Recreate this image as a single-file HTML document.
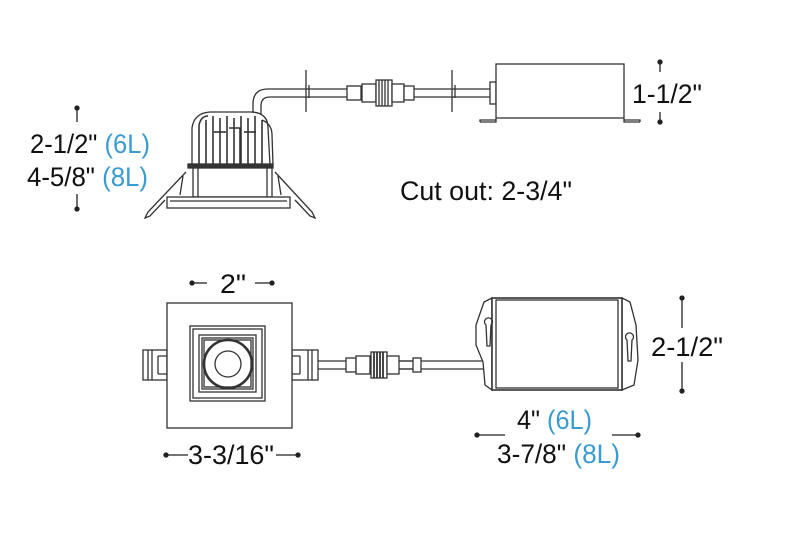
<!DOCTYPE html>
<html><head><meta charset="utf-8"><style>
html,body{margin:0;padding:0;background:#fff;}
svg{display:block}
text{font-family:"Liberation Sans",sans-serif;fill:#111;}
.b{fill:#3a9bd0}
</style></head><body>
<svg width="787" height="556" viewBox="0 0 787 556" xmlns="http://www.w3.org/2000/svg">
<g stroke="#333" stroke-width="1.3" fill="none">
<path d="M192 165 L192 128 Q194 113 210 112 L252 112 Q268 113 268 128 L270 165" fill="#fff"/>
<path d="M262 120 Q272 124 272 135 L273 165"/>
<g stroke-width="1.6">
<path d="M199 165 L199 125 Q201 116 208 116"/>
<path d="M206 165 L206 120"/><path d="M213 165 L213 116"/><path d="M220 165 L220 118"/>
<path d="M227 165 L227 116"/><path d="M234 165 L234 118"/><path d="M241 165 L241 116"/>
<path d="M248 165 L248 118"/><path d="M255 165 L255 116"/><path d="M262 165 L262 120"/>
<path d="M229 128 L240 128 L240 165"/><path d="M214 132 L226 132"/><path d="M244 132 L256 132"/>
</g>
<rect x="188" y="164" width="85" height="4" fill="#333"/>
<rect x="193" y="168" width="79" height="29" fill="#fff"/>
<path d="M198 168 L198 197 M267 168 L267 197"/>
<rect x="167" y="197" width="123" height="11" fill="#fff"/>
<path d="M170 201 L287 201"/>
<path d="M186 172 L148 212 L145 218 L150 216 L165 200 M183 176 L180 195"/>
<path d="M275 172 L312 212 L315 218 L310 216 L295 200 M278 176 L281 195"/>
<path d="M253 113 L253 104 Q253 89 268 89 L495 89"/>
<path d="M261 114 L261 106 Q261 97 270 97 L495 97"/>
<path d="M306 70 L306 112 M309 85 L309 98 M452 70 L452 112 M455 85 L455 98"/>
<rect x="347" y="86" width="14" height="14" fill="#fff"/>
<rect x="362" y="84" width="14" height="18" fill="#fff"/>
<rect x="376" y="80" width="16" height="26" fill="#fff"/>
<path d="M379 80 L379 106 M382 80 L382 106 M385 80 L385 106 M388 80 L388 106"/>
<rect x="392" y="84" width="12" height="18" fill="#fff"/>
<rect x="404" y="86" width="10" height="14" fill="#fff"/>
<rect x="490" y="82" width="6" height="22" fill="#fff"/>
<rect x="496" y="64" width="128" height="54" fill="#fff"/>
<path d="M480 122 L496 122 L496 118 M624 118 L624 122 L640 122 M480 122 L480 120 L496 120 M624 120 L640 120 L640 122"/>
<rect x="143" y="350" width="24" height="30" fill="#fff"/>
<path d="M148 350 L148 380 M152 350 L152 380 M158 356 L167 356 M158 374 L167 374 M158 356 L158 374"/>
<rect x="292" y="350" width="26" height="30" fill="#fff"/>
<path d="M312 350 L312 380 M308 350 L308 380 M292 356 L300 356 M292 374 L300 374 M300 356 L300 374"/>
<rect x="167" y="303" width="125" height="125" fill="#fff"/>
<rect x="190" y="326" width="75" height="75"/>
<rect x="193" y="329" width="69" height="69"/>
<rect x="199" y="335" width="57" height="57"/>
<rect x="202" y="338" width="51" height="51"/>
<rect x="204" y="340" width="47" height="47"/>
<circle cx="228" cy="364" r="24" stroke-width="2.6"/>
<circle cx="228" cy="364" r="13"/>
<path d="M318 361 L495 361 M318 369 L495 369"/>
<rect x="346" y="358" width="10" height="14" fill="#fff"/>
<rect x="356" y="356" width="14" height="18" fill="#fff"/>
<rect x="371" y="352" width="16" height="26" fill="#fff"/>
<path d="M374 352 L374 378 M377 352 L377 378 M380 352 L380 378 M383 352 L383 378" stroke-width="1.8"/>
<rect x="387" y="356" width="12" height="18" fill="#fff"/>
<rect x="413" y="358" width="8" height="14" fill="#fff"/>
<path d="M399 361 L413 361 M399 369 L413 369"/>
<path d="M492 298 L484 302 L476 325 L476 345 L483 362 L485 385 L492 390 Z" fill="#fff"/>
<path d="M622 298 L630 302 L636 325 L638 360 L634 385 L622 390 Z" fill="#fff"/>
<rect x="492" y="298" width="130" height="92" fill="#fff" stroke-width="1.6"/>
<rect x="496" y="300" width="122" height="88"/>
<path d="M486 325 a4 4 0 1 1 5 0 L490 346 L487 346 Z"/>
<path d="M627 340 a4 4 0 1 1 5 0 L631 361 L628 361 Z"/>
</g>
<g stroke="#222" stroke-width="1.3" fill="#222">
<line x1="77" y1="108" x2="77" y2="122"/><circle cx="77" cy="108" r="2"/>
<line x1="77" y1="194" x2="77" y2="209"/><circle cx="77" cy="209" r="2"/>
<line x1="660" y1="62" x2="660" y2="72"/><circle cx="660" cy="62" r="2"/>
<line x1="660" y1="112" x2="660" y2="122"/><circle cx="660" cy="122" r="2"/>
<line x1="192" y1="283" x2="207" y2="283"/><circle cx="192" cy="283" r="2"/>
<line x1="255" y1="283" x2="272" y2="283"/><circle cx="272" cy="283" r="2"/>
<line x1="682" y1="298" x2="682" y2="328"/><circle cx="682" cy="298" r="2"/>
<line x1="682" y1="362" x2="682" y2="391"/><circle cx="682" cy="391" r="2"/>
<line x1="477" y1="435" x2="505" y2="435"/><circle cx="477" cy="435" r="2"/>
<line x1="612" y1="435" x2="638" y2="435"/><circle cx="638" cy="435" r="2"/>
<line x1="166" y1="455" x2="188" y2="455"/><circle cx="166" cy="455" r="2"/>
<line x1="276" y1="455" x2="298" y2="455"/><circle cx="298" cy="455" r="2"/>
</g>
<g font-size="27">
<text x="30" y="153" textLength="120" lengthAdjust="spacingAndGlyphs">2-1/2" <tspan class="b">(6L)</tspan></text>
<text x="27" y="186" textLength="121" lengthAdjust="spacingAndGlyphs">4-5/8" <tspan class="b">(8L)</tspan></text>
<text x="632" y="103" textLength="70" lengthAdjust="spacingAndGlyphs">1-1/2"</text>
<text x="400" y="200" textLength="172" lengthAdjust="spacingAndGlyphs">Cut out: 2-3/4"</text>
<text x="220" y="293" textLength="26" lengthAdjust="spacingAndGlyphs">2"</text>
<text x="651" y="356" textLength="72" lengthAdjust="spacingAndGlyphs">2-1/2"</text>
<text x="517" y="429" textLength="75" lengthAdjust="spacingAndGlyphs">4" <tspan class="b">(6L)</tspan></text>
<text x="497" y="463" textLength="123" lengthAdjust="spacingAndGlyphs">3-7/8" <tspan class="b">(8L)</tspan></text>
<text x="188" y="464" textLength="86" lengthAdjust="spacingAndGlyphs">3-3/16"</text>
</g>
</svg>
</body></html>
